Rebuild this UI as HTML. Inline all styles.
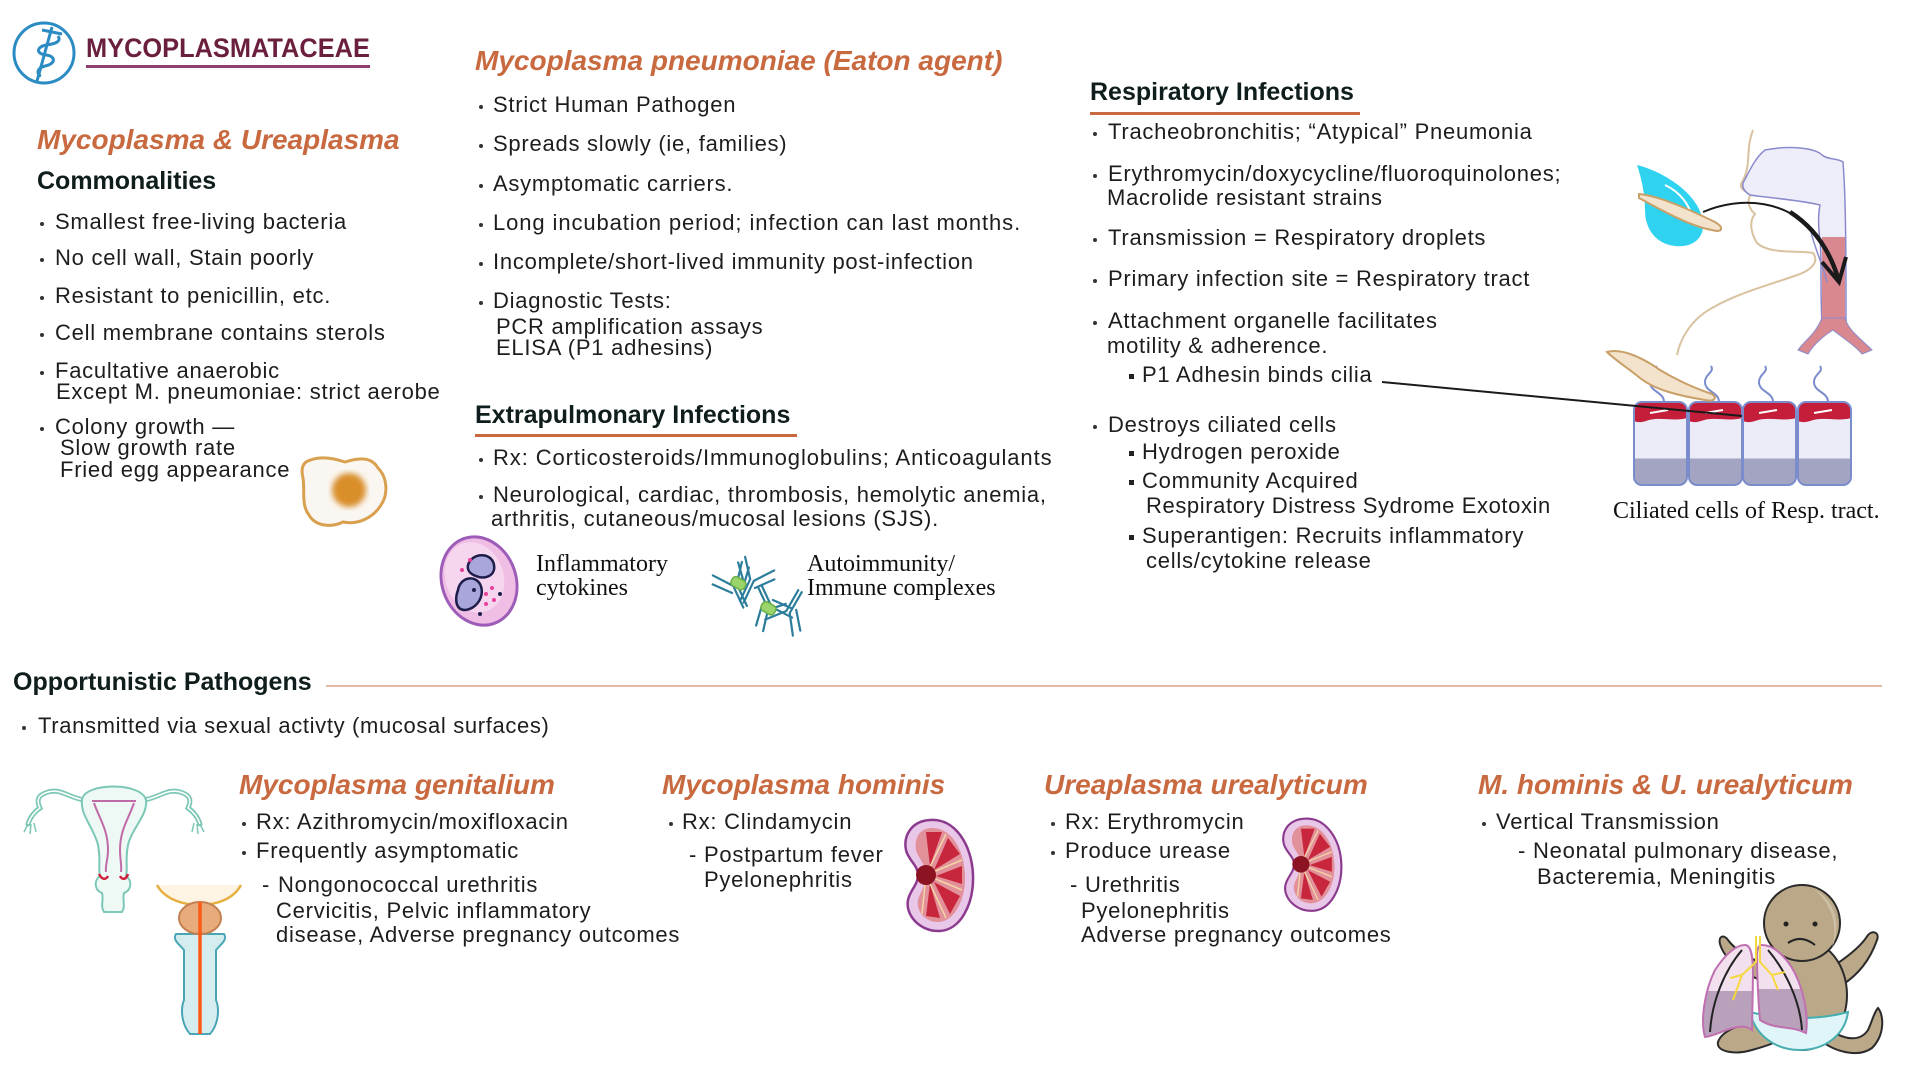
<!DOCTYPE html>
<html><head><meta charset="utf-8">
<style>
html,body{margin:0;padding:0;background:#fff;}
body{width:1920px;height:1080px;position:relative;overflow:hidden;font-family:"Liberation Sans",Arial,sans-serif;}
.t{position:absolute;font-size:22px;line-height:22px;letter-spacing:0.75px;color:#1d1d1d;white-space:nowrap;}
.h{position:absolute;font-size:25px;line-height:25px;font-weight:bold;color:#0f1d1d;white-space:nowrap;}
.o{position:absolute;font-size:28px;line-height:28px;font-weight:bold;font-style:italic;color:#c8693f;white-space:nowrap;}
.s{position:absolute;font-family:"Liberation Serif",serif;font-size:24px;line-height:24px;color:#111;white-space:nowrap;}
.d{position:absolute;width:4px;height:4px;border-radius:50%;background:#333;}
.q{position:absolute;width:5px;height:5px;background:#222;}
.ln{position:absolute;}
svg{position:absolute;left:0;top:0;}
</style></head><body>
<svg width="1920" height="1080" viewBox="0 0 1920 1080">
<defs>
<filter id="bl"><feGaussianBlur stdDeviation="3"/></filter>
<linearGradient id="cell" x1="0" y1="0" x2="0" y2="1">
<stop offset="0" stop-color="#ececf8"/><stop offset="0.68" stop-color="#ececf8"/>
<stop offset="0.68" stop-color="#a3a3c2"/><stop offset="1" stop-color="#a3a3c2"/>
</linearGradient>
<linearGradient id="lung" x1="0" y1="0" x2="0" y2="1">
<stop offset="0" stop-color="#f3e0ee"/><stop offset="0.5" stop-color="#f3e0ee"/>
<stop offset="0.5" stop-color="#b9a0bb"/><stop offset="1" stop-color="#b9a0bb"/>
</linearGradient>
<g id="kid">
<path d="M26 2 C51 0 68 27 69 57 C70 87 56 112 36 113 C16 114 1 97 4 82 C6 72 14 67 14 57 C14 47 4 42 2 32 C-1 17 8 3 26 2Z" fill="#e9c7e9" stroke="#8b3a8e" stroke-width="2.5"/>
<path d="M28 10 C48 10 60 32 61 57 C62 82 50 104 34 104 C20 104 12 92 14 82 C16 74 22 68 22 57 C22 46 14 40 12 32 C10 20 16 10 28 10Z" fill="#e2909a"/>
<path d="M22 14 L38 14 L26 48Z M44 20 L56 36 L30 52Z M58 48 L58 66 L32 58Z M56 78 L46 96 L30 64Z M36 100 L22 98 L26 66Z" fill="#c7263c"/>
<g stroke="#f3d6a6" stroke-width="1.5"><line x1="22" y1="57" x2="42" y2="16"/><line x1="22" y1="57" x2="58" y2="42"/><line x1="22" y1="57" x2="58" y2="72"/><line x1="22" y1="57" x2="42" y2="100"/><line x1="22" y1="57" x2="18" y2="96"/></g>
<circle cx="22" cy="57" r="10" fill="#8c1322"/>
</g>
<g id="ab" fill="none" stroke="#2b7d9b" stroke-width="2.2" stroke-linecap="round">
<path d="M-2 0 L-2 24 M2 0 L2 24 M-2 0 L-16 -18 M2 0 L16 -18 M-6 6 L-20 -10 M6 6 L20 -10"/>
</g>
<g id="cl">
<rect x="0" y="0" width="53" height="83" rx="8" fill="url(#cell)"/>
<path d="M0 8 Q0 0 8 0 L45 0 Q53 0 53 8 L53 16 C40 20 25 14 12 19 C6 21 2 20 0 19Z" fill="#c41e3a"/>
<rect x="0" y="0" width="53" height="83" rx="8" fill="none" stroke="#7b8ccc" stroke-width="2"/>
<line x1="16" y1="11" x2="34" y2="8" stroke="#fff" stroke-width="2"/>
</g>
</defs>

<!-- logo -->
<circle cx="44" cy="53" r="30" fill="none" stroke="#2b8cc4" stroke-width="3"/>
<line x1="52" y1="27" x2="37" y2="81" stroke="#2b8cc4" stroke-width="3"/>
<path d="M42 30 L62 34" stroke="#2b8cc4" stroke-width="3"/>
<path d="M58 36 C62 42 54 44 46 45 C36 47 36 54 46 55 C56 56 56 64 45 66 C37 68 36 74 41 76" fill="none" stroke="#2b8cc4" stroke-width="3"/>

<!-- egg -->
<g transform="translate(-7 0)">
<path d="M313 462 C325 455 340 458 352 462 C365 458 378 456 385 468 C395 478 395 495 388 505 C380 518 365 525 350 522 C338 528 322 526 316 515 C308 505 312 490 310 478 C308 470 309 465 313 462Z" fill="#faf6f1" stroke="#d9a050" stroke-width="3"/>
<circle cx="356" cy="490" r="17" fill="#d98e2c" filter="url(#bl)"/>
</g>

<!-- neutrophil -->
<g transform="rotate(-20 479 581)"><ellipse cx="479" cy="581" rx="37" ry="45" fill="#f0bde4" stroke="#9d5cb8" stroke-width="3"/><ellipse cx="476" cy="576" rx="29" ry="36" fill="#f6d6ef"/></g>
<path d="M468 565 C472 552 492 552 494 565 C496 576 484 580 476 576 C470 574 467 570 468 565Z" fill="#a8a6da" stroke="#1e1e4a" stroke-width="2.5"/>
<path d="M458 590 C460 578 474 574 480 584 C486 596 476 610 464 610 C455 609 455 598 458 590Z" fill="#a8a6da" stroke="#1e1e4a" stroke-width="2.5"/>
<g fill="#e8419a"><circle cx="462" cy="570" r="2"/><circle cx="470" cy="560" r="2"/><circle cx="486" cy="594" r="2"/><circle cx="492" cy="588" r="2"/><circle cx="494" cy="600" r="2"/><circle cx="486" cy="604" r="2"/></g>
<g fill="#1e1e4a"><circle cx="480" cy="614" r="2"/><circle cx="500" cy="594" r="2"/><circle cx="474" cy="590" r="2"/></g>

<!-- antibodies -->
<use href="#ab" transform="translate(735 585) rotate(-25)"/>
<use href="#ab" transform="translate(770 608) rotate(155)"/>
<use href="#ab" transform="translate(752 580) rotate(25)"/>
<use href="#ab" transform="translate(788 612) rotate(-150)"/>
<rect x="731" y="578" width="15" height="10" rx="4" fill="#9bd46a" stroke="#6ab04a" stroke-width="1.5" transform="rotate(30 738 583)"/>
<rect x="761" y="603" width="15" height="10" rx="4" fill="#9bd46a" stroke="#6ab04a" stroke-width="1.5" transform="rotate(30 768 608)"/>

<!-- respiratory illustration -->
<path d="M1753 130 C1745 150 1752 165 1742 182 C1738 188 1745 192 1752 194 C1745 200 1750 210 1755 214 C1748 222 1752 235 1757 243 C1770 255 1800 250 1813 253 C1820 262 1810 270 1800 274 C1770 285 1740 292 1712 308 C1690 320 1680 340 1677 355" fill="none" stroke="#d9c2a0" stroke-width="2"/>
<path d="M1743 183 C1750 170 1755 158 1765 150 C1790 145 1815 148 1822 155 C1828 160 1838 158 1843 162 C1846 200 1846 260 1846 323 L1822 323 C1820 290 1822 260 1820 240 C1818 225 1818 215 1820 205 C1800 200 1770 198 1750 195 C1745 192 1742 188 1743 183Z" fill="#eeeefb" stroke="#8a8acc" stroke-width="1.5"/>
<rect x="1822" y="237" width="23" height="86" fill="#d98890"/>
<path d="M1822 318 C1815 335 1805 340 1798 350 L1808 354 C1815 342 1828 333 1833 330 C1840 336 1855 345 1862 354 L1872 350 C1860 338 1848 330 1845 318Z" fill="#d98890" stroke="#8a8acc" stroke-width="1"/>
<path d="M1810 228 C1815 250 1822 262 1827 282" fill="none" stroke="#8a8acc" stroke-width="1.5"/>
<path d="M1637 165 C1665 172 1700 195 1703 222 C1705 240 1690 248 1675 246 C1655 244 1645 228 1645 210 C1645 195 1642 180 1637 165Z" fill="#2fd3ef"/>
<path d="M1665 185 C1680 192 1690 205 1692 218" fill="none" stroke="#fff" stroke-width="2"/>
<path d="M1639 194 C1660 196 1690 210 1715 222 C1725 228 1722 233 1712 230 C1690 226 1665 212 1639 198Z" fill="#f3e3cc" stroke="#c8a068" stroke-width="2"/>
<path d="M1703 212 C1740 196 1790 198 1820 240" fill="none" stroke="#1a1a1a" stroke-width="2"/>
<path d="M1790 212 C1815 228 1830 252 1838 278" fill="none" stroke="#1a1a1a" stroke-width="4.5"/>
<path d="M1822 262 L1839 282 L1846 257" fill="none" stroke="#1a1a1a" stroke-width="4"/>
<g stroke="#7b8ccc" stroke-width="2" fill="none">
<path d="M1664 402 C1664 392 1650 392 1650 382 C1650 374 1660 372 1656 366"/>
<path d="M1719 402 C1719 392 1705 392 1705 382 C1705 374 1715 372 1711 366"/>
<path d="M1773 402 C1773 392 1759 392 1759 382 C1759 374 1769 372 1765 366"/>
<path d="M1828 402 C1828 392 1814 392 1814 382 C1814 374 1824 372 1820 366"/>
</g>
<use href="#cl" transform="translate(1634 402)"/>
<use href="#cl" transform="translate(1689 402)"/>
<use href="#cl" transform="translate(1743 402)"/>
<use href="#cl" transform="translate(1798 402)"/>
<path d="M1607 352 C1620 348 1640 356 1660 370 C1680 382 1700 390 1712 394 C1718 398 1714 402 1705 400 C1680 396 1655 390 1640 378 C1628 368 1615 360 1607 352Z" fill="#f3e3cc" stroke="#c8a068" stroke-width="2"/>
<line x1="1382" y1="382" x2="1742" y2="416" stroke="#1a1a1a" stroke-width="2"/>

<!-- uterus -->
<g fill="none" stroke="#7cc7b6" stroke-width="5" stroke-linecap="round">
<path d="M84 800 C70 798 60 788 48 792 C38 795 36 800 40 808 C34 812 30 818 28 824"/>
<path d="M144 800 C158 798 168 788 180 792 C190 795 192 800 188 808 C194 812 198 818 200 824"/>
</g>
<g fill="none" stroke="#fff" stroke-width="1.5">
<path d="M84 800 C70 798 60 788 48 792 C38 795 36 800 40 808 C34 812 30 818 28 824"/>
<path d="M144 800 C158 798 168 788 180 792 C190 795 192 800 188 808 C194 812 198 818 200 824"/>
</g>
<g stroke="#7cc7b6" stroke-width="1.5"><line x1="28" y1="824" x2="24" y2="832"/><line x1="31" y1="824" x2="30" y2="834"/><line x1="34" y1="823" x2="36" y2="832"/><line x1="200" y1="824" x2="204" y2="832"/><line x1="197" y1="824" x2="198" y2="834"/><line x1="194" y1="823" x2="192" y2="832"/></g>
<path d="M82 800 C84 782 142 782 146 800 C148 815 132 828 128 845 C125 860 128 868 126 876 C132 880 132 890 124 893 C122 900 126 906 122 912 L104 912 C100 906 104 900 102 893 C94 890 94 880 100 876 C98 868 101 860 98 845 C94 828 80 815 82 800Z" fill="#eef8f5" stroke="#7cc7b6" stroke-width="2"/>
<g fill="none" stroke="#c06aa8" stroke-width="2"><path d="M92 801 L136 801"/><path d="M94 803 C100 820 108 830 108 850 C108 860 105 866 106 872"/><path d="M134 803 C128 820 120 830 120 850 C120 860 122 866 121 872"/></g>
<g fill="none" stroke="#d0203c" stroke-width="2.5"><path d="M99 874 C102 880 106 880 108 876"/><path d="M120 876 C122 880 126 880 128 874"/></g>

<!-- penis / prostate -->
<path d="M157 885 C165 900 185 905 199 905 C215 905 233 900 241 885 Z" fill="#fdf4e4"/>
<path d="M157 885 C165 900 185 905 199 905 C215 905 233 900 241 885" fill="none" stroke="#e6b040" stroke-width="2.5"/>
<path d="M176 934 C172 940 180 945 184 950 L184 1000 C180 1010 182 1025 190 1034 L210 1034 C218 1025 220 1010 216 1000 L216 950 C220 945 228 940 224 934 Z" fill="#d6edf0" stroke="#4aa5b5" stroke-width="2"/>
<ellipse cx="200" cy="918" rx="21" ry="16" fill="#e7ab7c" stroke="#c48050" stroke-width="2"/>
<line x1="200" y1="902" x2="200" y2="1034" stroke="#ff5a14" stroke-width="3.5"/>

<!-- kidneys -->
<use href="#kid" transform="translate(904 818)"/>
<use href="#kid" transform="translate(1282 817) scale(0.86 0.83)"/>

<!-- baby -->
<g fill="#baa888" stroke="#2a2a2a" stroke-width="2">
<path d="M1760 1020 C1740 1025 1722 1030 1718 1042 C1716 1052 1735 1055 1752 1050 C1770 1045 1785 1040 1790 1030Z"/>
<path d="M1830 1030 C1845 1040 1860 1042 1868 1030 C1872 1022 1874 1012 1878 1008 C1884 1015 1885 1035 1872 1048 C1858 1058 1835 1052 1820 1040Z"/>
<path d="M1765 965 C1750 958 1735 950 1728 940 C1724 934 1718 936 1720 944 C1724 958 1740 972 1760 980Z"/>
<path d="M1835 965 C1850 955 1862 945 1868 935 C1872 930 1880 932 1877 940 C1870 960 1858 975 1842 985Z"/>
<ellipse cx="1803" cy="995" rx="44" ry="55"/>
<circle cx="1802" cy="923" r="38"/>
</g>
<path d="M1815 890 C1835 900 1842 925 1832 948 C1838 925 1832 905 1815 890Z" fill="#cdbfa3"/>
<circle cx="1786" cy="924" r="2.5" fill="#222"/><circle cx="1815" cy="924" r="2.5" fill="#222"/>
<path d="M1788 943 Q1801 934 1815 945" fill="none" stroke="#222" stroke-width="2"/>
<path d="M1750 1012 C1780 1020 1820 1020 1848 1012 C1845 1035 1825 1050 1800 1050 C1775 1050 1755 1035 1750 1012Z" fill="#dff5f8" stroke="#46aeb0" stroke-width="2"/>
<path d="M1745 945 C1752 945 1753 960 1753 975 L1752 1030 C1740 1020 1720 1035 1705 1037 C1700 1020 1705 990 1715 970 C1725 955 1735 945 1745 945Z" fill="url(#lung)" stroke="#c070b0" stroke-width="2"/>
<path d="M1762 945 C1775 945 1790 960 1798 980 C1806 1000 1808 1020 1806 1033 C1790 1025 1775 1030 1760 1020 C1758 1000 1757 970 1757 955 C1757 948 1759 945 1762 945Z" fill="url(#lung)" stroke="#c070b0" stroke-width="2"/>
<path d="M1742 950 C1725 970 1712 1000 1710 1032" fill="none" stroke="#222" stroke-width="2"/>
<path d="M1768 950 C1785 970 1800 1000 1802 1030" fill="none" stroke="#222" stroke-width="2"/>
<g fill="none" stroke="#f5d840" stroke-width="2"><path d="M1756 936 L1756 962 L1742 975 L1733 1000"/><path d="M1760 936 L1760 962 L1772 975 L1778 990"/><path d="M1742 975 L1730 978"/><path d="M1772 975 L1785 972"/></g>
</svg>

<!-- header -->
<div class="ln" style="left:86px;top:35px;font-size:27px;line-height:27px;font-weight:bold;color:#6b1f3e;white-space:nowrap;transform:scaleX(0.94);transform-origin:0 0;">MYCOPLASMATACEAE</div>
<div class="ln" style="left:86px;top:65px;width:284px;height:2.5px;background:#8d3f72;"></div>

<!-- left column -->
<div class="o" style="left:37px;top:126px;">Mycoplasma &amp; Ureaplasma</div>
<div class="h" style="left:37px;top:169px;">Commonalities</div>
<div class="d" style="left:40px;top:222px;"></div><div class="t" style="left:55px;top:211px;">Smallest free-living bacteria</div>
<div class="d" style="left:40px;top:258px;"></div><div class="t" style="left:55px;top:247px;">No cell wall, Stain poorly</div>
<div class="d" style="left:40px;top:296px;"></div><div class="t" style="left:55px;top:285px;">Resistant to penicillin, etc.</div>
<div class="d" style="left:40px;top:333px;"></div><div class="t" style="left:55px;top:322px;">Cell membrane contains sterols</div>
<div class="d" style="left:40px;top:371px;"></div><div class="t" style="left:55px;top:360px;">Facultative anaerobic</div>
<div class="t" style="left:56px;top:381px;">Except M. pneumoniae: strict aerobe</div>
<div class="d" style="left:40px;top:427px;"></div><div class="t" style="left:55px;top:416px;">Colony growth —</div>
<div class="t" style="left:60px;top:437px;">Slow growth rate</div>
<div class="t" style="left:60px;top:459px;">Fried egg appearance</div>

<!-- middle column -->
<div class="o" style="left:475px;top:47px;">Mycoplasma pneumoniae (Eaton agent)</div>
<div class="d" style="left:479px;top:105px;"></div><div class="t" style="left:493px;top:94px;">Strict Human Pathogen</div>
<div class="d" style="left:479px;top:144px;"></div><div class="t" style="left:493px;top:133px;">Spreads slowly (ie, families)</div>
<div class="d" style="left:479px;top:184px;"></div><div class="t" style="left:493px;top:173px;">Asymptomatic carriers.</div>
<div class="d" style="left:479px;top:223px;"></div><div class="t" style="left:493px;top:212px;letter-spacing:0.9px;">Long incubation period; infection can last months.</div>
<div class="d" style="left:479px;top:262px;"></div><div class="t" style="left:493px;top:251px;">Incomplete/short-lived immunity post-infection</div>
<div class="d" style="left:479px;top:301px;"></div><div class="t" style="left:493px;top:290px;">Diagnostic Tests:</div>
<div class="t" style="left:496px;top:316px;">PCR amplification assays</div>
<div class="t" style="left:496px;top:337px;">ELISA (P1 adhesins)</div>
<div class="h" style="left:475px;top:403px;">Extrapulmonary Infections</div>
<div class="ln" style="left:475px;top:434px;width:322px;height:2.5px;background:#c8693f;"></div>
<div class="d" style="left:479px;top:458px;"></div><div class="t" style="left:493px;top:447px;letter-spacing:0.9px;">Rx: Corticosteroids/Immunoglobulins; Anticoagulants</div>
<div class="d" style="left:479px;top:495px;"></div><div class="t" style="left:493px;top:484px;">Neurological, cardiac, thrombosis, hemolytic anemia,</div>
<div class="t" style="left:491px;top:508px;">arthritis, cutaneous/mucosal lesions (SJS).</div>
<div class="s" style="left:536px;top:552px;">Inflammatory</div>
<div class="s" style="left:536px;top:576px;">cytokines</div>
<div class="s" style="left:807px;top:552px;">Autoimmunity/</div>
<div class="s" style="left:807px;top:576px;">Immune complexes</div>

<!-- right column -->
<div class="h" style="left:1090px;top:80px;">Respiratory Infections</div>
<div class="ln" style="left:1090px;top:112px;width:270px;height:2.5px;background:#c8693f;"></div>
<div class="d" style="left:1093px;top:132px;"></div><div class="t" style="left:1108px;top:121px;">Tracheobronchitis; “Atypical” Pneumonia</div>
<div class="d" style="left:1093px;top:174px;"></div><div class="t" style="left:1108px;top:163px;">Erythromycin/doxycycline/fluoroquinolones;</div>
<div class="t" style="left:1107px;top:187px;">Macrolide resistant strains</div>
<div class="d" style="left:1093px;top:238px;"></div><div class="t" style="left:1108px;top:227px;">Transmission = Respiratory droplets</div>
<div class="d" style="left:1093px;top:279px;"></div><div class="t" style="left:1108px;top:268px;">Primary infection site = Respiratory tract</div>
<div class="d" style="left:1093px;top:321px;"></div><div class="t" style="left:1108px;top:310px;">Attachment organelle facilitates</div>
<div class="t" style="left:1107px;top:335px;">motility &amp; adherence.</div>
<div class="q" style="left:1129px;top:374px;"></div><div class="t" style="left:1142px;top:364px;">P1 Adhesin binds cilia</div>
<div class="d" style="left:1093px;top:425px;"></div><div class="t" style="left:1108px;top:414px;">Destroys ciliated cells</div>
<div class="q" style="left:1129px;top:451px;"></div><div class="t" style="left:1142px;top:441px;">Hydrogen peroxide</div>
<div class="q" style="left:1129px;top:480px;"></div><div class="t" style="left:1142px;top:470px;">Community Acquired</div>
<div class="t" style="left:1146px;top:495px;letter-spacing:0.6px;">Respiratory Distress Sydrome Exotoxin</div>
<div class="q" style="left:1129px;top:535px;"></div><div class="t" style="left:1142px;top:525px;">Superantigen: Recruits inflammatory</div>
<div class="t" style="left:1146px;top:550px;">cells/cytokine release</div>
<div class="s" style="left:1613px;top:499px;">Ciliated cells of Resp. tract.</div>

<!-- bottom -->
<div class="h" style="left:13px;top:670px;">Opportunistic Pathogens</div>
<div class="ln" style="left:326px;top:685px;width:1556px;height:2px;background:#e8b9a2;"></div>
<div class="d" style="left:22px;top:726px;"></div><div class="t" style="left:38px;top:715px;letter-spacing:0.65px;">Transmitted via sexual activty (mucosal surfaces)</div>

<div class="o" style="left:239px;top:771px;">Mycoplasma genitalium</div>
<div class="d" style="left:242px;top:822px;"></div><div class="t" style="left:256px;top:811px;">Rx: Azithromycin/moxifloxacin</div>
<div class="d" style="left:242px;top:851px;"></div><div class="t" style="left:256px;top:840px;">Frequently asymptomatic</div>
<div class="t" style="left:262px;top:874px;">-</div><div class="t" style="left:278px;top:874px;">Nongonococcal urethritis</div>
<div class="t" style="left:276px;top:900px;">Cervicitis, Pelvic inflammatory</div>
<div class="t" style="left:276px;top:924px;">disease, Adverse pregnancy outcomes</div>

<div class="o" style="left:662px;top:771px;">Mycoplasma hominis</div>
<div class="d" style="left:669px;top:822px;"></div><div class="t" style="left:682px;top:811px;">Rx: Clindamycin</div>
<div class="t" style="left:689px;top:844px;">-</div><div class="t" style="left:704px;top:844px;">Postpartum fever</div>
<div class="t" style="left:704px;top:869px;">Pyelonephritis</div>

<div class="o" style="left:1044px;top:771px;">Ureaplasma urealyticum</div>
<div class="d" style="left:1051px;top:822px;"></div><div class="t" style="left:1065px;top:811px;">Rx: Erythromycin</div>
<div class="d" style="left:1051px;top:851px;"></div><div class="t" style="left:1065px;top:840px;">Produce urease</div>
<div class="t" style="left:1070px;top:874px;">-</div><div class="t" style="left:1085px;top:874px;">Urethritis</div>
<div class="t" style="left:1081px;top:900px;">Pyelonephritis</div>
<div class="t" style="left:1081px;top:924px;">Adverse pregnancy outcomes</div>

<div class="o" style="left:1478px;top:771px;">M. hominis &amp; U. urealyticum</div>
<div class="d" style="left:1482px;top:822px;"></div><div class="t" style="left:1496px;top:811px;">Vertical Transmission</div>
<div class="t" style="left:1518px;top:840px;">-</div><div class="t" style="left:1533px;top:840px;">Neonatal pulmonary disease,</div>
<div class="t" style="left:1537px;top:866px;">Bacteremia, Meningitis</div>
</body></html>
